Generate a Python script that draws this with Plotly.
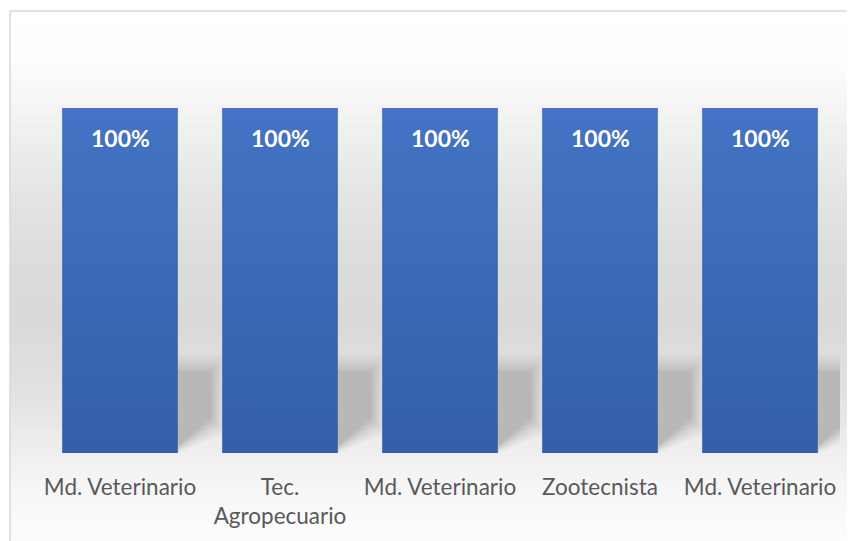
import plotly.graph_objects as go
import numpy as np

# ---- data ----
categories = ["Md. Veterinario", "Tec.<br>Agropecuario", "Md. Veterinario", "Zootecnista", "Md. Veterinario"]
values = [1.0, 1.0, 1.0, 1.0, 1.0]
labels = [f"{v:.0%}" for v in values]

x_pos = list(range(len(categories)))

# page body has an 8px offset; figure coordinates are page coords - 8
OFF = 8
W, H = 855 - OFF, 541 - OFF
ML = 40 - OFF
MT = 108 - OFF
PW = 800
PH = 457 - 108
MR = W - ML - PW
MB = H - MT - PH
BAR_W = 0.72


def px2x(px):
    return (px - OFF - ML) / PW


def py2y(py):
    return (MT + PH - (py - OFF)) / PH


shapes = []
# background vertical gradient (style only), page pixel coords
stops_px = [10, 60, 100, 150, 200, 270, 330, 400, 460, 500, 545]
stops_lv = [255, 253, 246, 236, 228, 219, 218, 226, 240, 247, 252]
band = 5
for y0 in range(10, 560, band):
    lv = int(round(np.interp(y0 + band / 2, stops_px, stops_lv)))
    shapes.append(dict(type="rect", xref="paper", yref="paper", layer="below",
                       x0=px2x(10), x1=px2x(880), y0=py2y(y0), y1=py2y(y0 + band + 0.6),
                       fillcolor=f"rgb({lv},{lv},{lv})", line=dict(width=0)))
# chart border
shapes.append(dict(type="rect", xref="paper", yref="paper", layer="below",
                   x0=px2x(10), x1=px2x(880), y0=py2y(10), y1=py2y(570),
                   fillcolor="rgba(0,0,0,0)", line=dict(color="#d9d9d9", width=1.5)))

# soft shadows behind bars
half = BAR_W / 2
for i, v in zip(x_pos, values):
    xr = i + half
    layers = [(0.07, 0.12), (0.055, 0.15), (0.04, 0.2), (0.025, 0.3), (0.01, 0.45), (-0.005, 1.0)]
    for grow, op in layers:
        dx, dy = grow, grow * 0.6
        path = (f"M {xr-0.1},{-0.02} L {xr+0.22+dx},{0.1 - dy} "
                f"L {xr+0.22+dx},{0.24*v + dy} L {xr-0.1},{0.24*v + dy} Z")
        shapes.append(dict(type="path", xref="x", yref="y", layer="below", path=path,
                           fillcolor="rgb(184,184,184)", opacity=op, line=dict(width=0)))

fig = go.Figure()
fig.add_trace(go.Bar(
    x=x_pos, y=values, width=BAR_W,
    marker=dict(color="#3B67B5", line=dict(width=0)),
    hoverinfo="skip", showlegend=False,
))
# vertical colour gradient over each bar, built from the same data
for i, v in zip(x_pos, values):
    fig.add_trace(go.Scatter(
        x=[i - half, i + half, i + half, i - half, i - half],
        y=[0, 0, v, v, 0],
        mode="none", fill="toself",
        fillgradient=dict(type="vertical", start=0, stop=v,
                          colorscale=[[0, "#335FA9"], [1, "#4573C5"]]),
        hoverinfo="skip", showlegend=False,
    ))

annotations = []
for i, v, t in zip(x_pos, values, labels):
    annotations.append(dict(x=i, y=v, xref="x", yref="y", text=f"<b>{t}</b>",
                            showarrow=False, yshift=-30, yanchor="middle",
                            font=dict(family="Lato", size=23, color="white")))

fig.update_layout(
    width=W, height=H,
    margin=dict(l=ML, r=MR, t=MT, b=MB),
    paper_bgcolor="white",
    plot_bgcolor="rgba(0,0,0,0)",
    shapes=shapes,
    annotations=annotations,
    showlegend=False,
    xaxis=dict(range=[-0.5, len(categories) - 0.5], tickvals=x_pos, ticktext=categories,
               showgrid=False, zeroline=False, showline=False, ticks="",
               ticklabelstandoff=18,
               tickfont=dict(family="Lato", size=22.5, color="#595959")),
    yaxis=dict(range=[0, 1], visible=False, showgrid=False, zeroline=False),
)

fig.write_html("out.html")
